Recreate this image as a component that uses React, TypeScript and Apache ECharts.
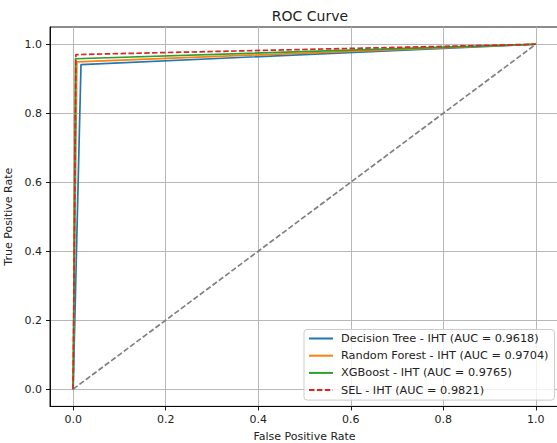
import React, { useEffect, useRef } from "react";
import * as echarts from "echarts";

const seriesNames = [
  "Decision Tree - IHT (AUC = 0.9618)",
  "Random Forest - IHT (AUC = 0.9704)",
  "XGBoost - IHT (AUC = 0.9765)",
  "SEL - IHT (AUC = 0.9821)",
];
const seriesColors = ["#1f77b4", "#ff7f0e", "#2ca02c", "#d62728"];
const decisionTreeFpr = [0, 0.017, 1];
const decisionTreeTpr = [0, 0.941, 1];
const randomForestFpr = [0, 0.008, 1];
const randomForestTpr = [0, 0.949, 1];
const xgboostFpr = [0, 0.005, 1];
const xgboostTpr = [0, 0.958, 1];
const selFpr = [0, 0.006, 1];
const selTpr = [0, 0.970, 1];
const chanceFpr = [0, 1];
const chanceTpr = [0, 1];
const tickValues = [0, 0.2, 0.4, 0.6, 0.8, 1.0];

const FONT = "DejaVu Sans";

function pairs(xs: number[], ys: number[]) {
  return xs.map((x, i) => [x, ys[i]]);
}

export default function App() {
  const ref = useRef<HTMLDivElement>(null);
  useEffect(() => {
    if (!ref.current) return;
    const chart = echarts.init(ref.current, undefined, { renderer: "svg" });
    const curves = [
      pairs(decisionTreeFpr, decisionTreeTpr),
      pairs(randomForestFpr, randomForestTpr),
      pairs(xgboostFpr, xgboostTpr),
      pairs(selFpr, selTpr),
    ];
    const axisCommon = {
      type: "value" as const,
      min: -0.05,
      max: 1.05,
      axisLine: { show: true, onZero: false, lineStyle: { color: "#000", width: 0.9 } },
      axisTick: { show: true, length: 4, customValues: tickValues, lineStyle: { color: "#000", width: 0.9 } },
      axisLabel: {
        customValues: tickValues,
        fontFamily: FONT,
        fontSize: 11,
        color: "#222",
        margin: 8,
        formatter: (v: number) => v.toFixed(1),
      },
      splitLine: { show: true, lineStyle: { color: "#b0b0b0", width: 0.9 } },
      nameLocation: "middle" as const,
      nameTextStyle: { fontFamily: FONT, fontSize: 11, color: "#222" },
    };
    chart.setOption({
      animation: false,
      backgroundColor: "#fff",
      title: {
        text: "ROC Curve",
        left: 305,
        top: 4,
        textAlign: "center",
        textStyle: { fontFamily: FONT, fontSize: 14, fontWeight: "normal", color: "#222" },
      },
      grid: {
        left: 50,
        top: 27,
        width: 509,
        height: 379.4,
        outerBoundsMode: "none",
        containLabel: false,
        show: true,
        borderColor: "#000",
        borderWidth: 0.9,
        backgroundColor: "transparent",
      },
      xAxis: { ...axisCommon, name: "False Positive Rate", nameGap: 25 },
      yAxis: { ...axisCommon, name: "True Positive Rate", nameGap: 31 },
      legend: {
        data: seriesNames,
        orient: "vertical",
        left: 304,
        top: 329.5,
        itemWidth: 24,
        itemHeight: 11,
        itemGap: 6.2,
        padding: [3.5, 6, 4.5, 4],
        borderColor: "#cccccc",
        borderWidth: 1,
        borderRadius: 3,
        backgroundColor: "rgba(255,255,255,0.8)",
        itemStyle: { opacity: 0 },
        textStyle: { fontFamily: FONT, fontSize: 11.3, color: "#222", lineHeight: 11, padding: [0, 0, 0, 3] },
      },
      series: [
        ...curves.map((d, i) => ({
          name: seriesNames[i],
          type: "line",
          data: d,
          symbol: "none",
          color: seriesColors[i],
          lineStyle: {
            color: seriesColors[i],
            width: 1.7,
            type: i === 3 ? [5.5, 2.4] : "solid",
          },
          z: 3 + i,
        })),
        {
          name: "chance",
          type: "line",
          data: pairs(chanceFpr, chanceTpr),
          symbol: "none",
          lineStyle: { color: "#808080", width: 1.7, type: [5.5, 2.4] },
          z: 2,
        },
      ],
    });
    return () => chart.dispose();
  }, []);
  return (
    <div
      ref={ref}
      style={{ position: "fixed", left: 0, top: 0, width: 557, height: 443, background: "#fff" }}
    />
  );
}
